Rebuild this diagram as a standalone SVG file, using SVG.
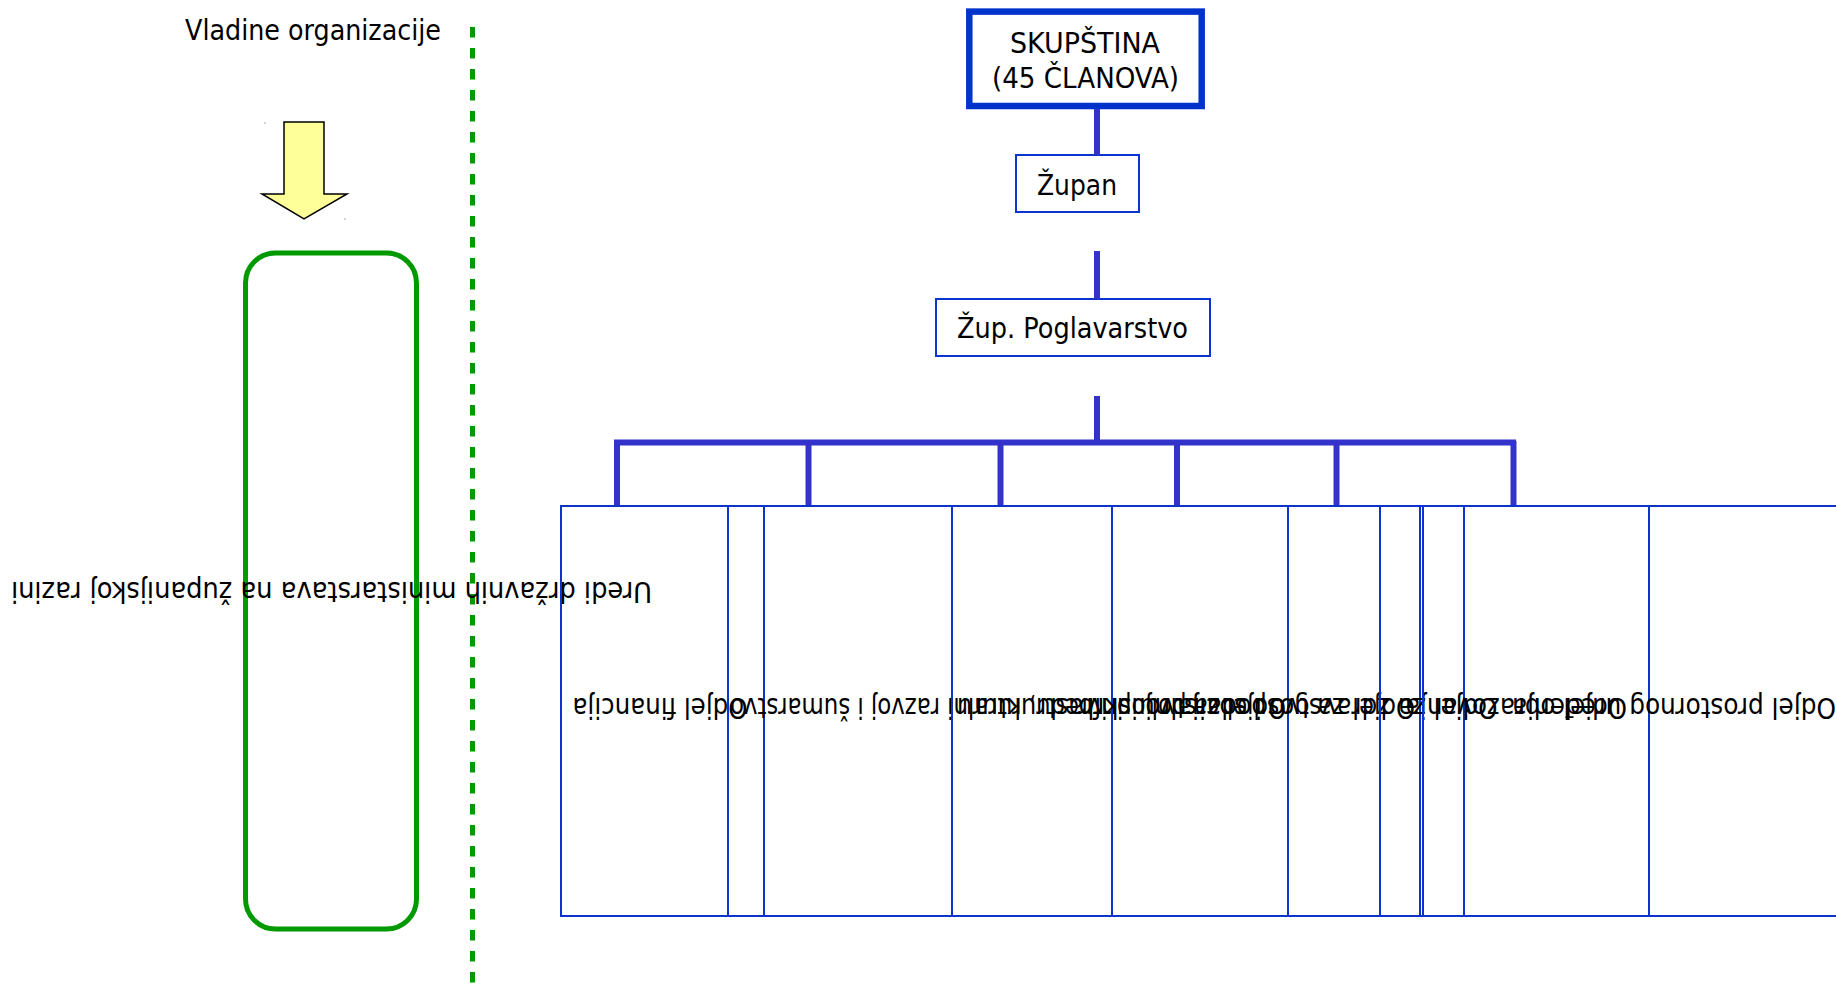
<svg xmlns="http://www.w3.org/2000/svg" width="1836" height="983" viewBox="0 0 1836 983">
  <style>
    .t { font-family: Tahoma, "DejaVu Sans Condensed", "DejaVu Sans", sans-serif; font-size: 28px; fill: #000; }
    .box { fill: #fff; stroke: #0a34cc; stroke-width: 2; }
    .dept { fill: none; stroke: #0a34cc; stroke-width: 2; }
    .conn { stroke: #3333cc; stroke-width: 6; fill: none; }
  </style>
  <rect width="1836" height="983" fill="#fff"/>

  <!-- government side -->
  <g id="vladine">
    <text class="t" x="185" y="40" textLength="256" lengthAdjust="spacingAndGlyphs">Vladine organizacije</text>
  </g>
  <g id="strelica">
    <polygon points="284,122 324,122 324,194 347,194 304,219 262,194 284,194" fill="#ffff99" stroke="#000" stroke-width="1.5"/>
    <rect x="264.5" y="122.5" width="1" height="1" fill="#555"/>
    <rect x="344.5" y="218.5" width="1" height="1" fill="#555"/>
  </g>
  <line id="granica" x1="472.5" y1="27" x2="472.5" y2="983" stroke="#009900" stroke-width="5" stroke-dasharray="10.5 10.5"/>
  <g id="uredi">
    <rect x="245.5" y="253" width="171" height="676" rx="30" ry="30" fill="none" stroke="#009900" stroke-width="5"/>
    <text class="t" transform="translate(331.5 582) rotate(180)" text-anchor="middle" textLength="641" lengthAdjust="spacingAndGlyphs">Uredi državnih ministarstava na županijskoj razini</text>
  </g>

  <!-- county hierarchy -->
  <g id="skupstina">
    <rect x="969.3" y="11.6" width="232.4" height="94.4" fill="#fff" stroke="#0033cc" stroke-width="6.5"/>
    <text class="t" x="1085" y="53" text-anchor="middle" textLength="150" lengthAdjust="spacingAndGlyphs">SKUPŠTINA</text>
    <text class="t" x="1085.5" y="88" text-anchor="middle" textLength="187" lengthAdjust="spacingAndGlyphs">(45 ČLANOVA)</text>
  </g>
  <g id="zupan">
    <rect class="box" x="1016" y="155" width="123" height="57"/>
    <text class="t" x="1077" y="195" text-anchor="middle" textLength="80" lengthAdjust="spacingAndGlyphs">Župan</text>
  </g>
  <g id="poglavarstvo">
    <rect class="box" x="936" y="299" width="274" height="57"/>
    <text class="t" x="1072.5" y="338" text-anchor="middle" textLength="231" lengthAdjust="spacingAndGlyphs">Žup. Poglavarstvo</text>
  </g>

  <g id="veze">
    <line class="conn" x1="1097" y1="109" x2="1097" y2="155"/>
    <line class="conn" x1="1097" y1="251" x2="1097" y2="299"/>
    <line class="conn" x1="1097" y1="396" x2="1097" y2="443"/>
    <line class="conn" x1="614" y1="442.5" x2="1516" y2="442.5"/>
    <line class="conn" x1="617" y1="441" x2="617" y2="506" stroke-width="5"/>
    <line class="conn" x1="808.5" y1="441" x2="808.5" y2="506" stroke-width="5"/>
    <line class="conn" x1="1000.5" y1="441" x2="1000.5" y2="506" stroke-width="5"/>
    <line class="conn" x1="1177" y1="441" x2="1177" y2="506" stroke-width="5"/>
    <line class="conn" x1="1336.5" y1="441" x2="1336.5" y2="506" stroke-width="5"/>
    <line class="conn" x1="1513.5" y1="441" x2="1513.5" y2="506" stroke-width="5"/>
  </g>

  <!-- departments: labels are turned upside down, centred on each box -->
  <g id="odjel-1">
    <rect class="dept" x="561" y="506" width="203" height="410"/>
    <text class="t" transform="translate(660 698) rotate(180)" text-anchor="middle" textLength="175" lengthAdjust="spacingAndGlyphs">Odjel financija</text>
  </g>
  <g id="odjel-2">
    <rect class="dept" x="728" y="506" width="560" height="410"/>
    <text class="t" transform="translate(1008 698) rotate(180)" text-anchor="middle" textLength="556" lengthAdjust="spacingAndGlyphs">Odjel za poljoprivredu, ruralni razvoj i šumarstvo</text>
  </g>
  <g id="odjel-3">
    <rect class="dept" x="952" y="506" width="468" height="410"/>
    <text class="t" transform="translate(1186 698) rotate(180)" text-anchor="middle" textLength="458" lengthAdjust="spacingAndGlyphs">Odjel za gospodarstvo i infrastrukturu</text>
  </g>
  <g id="odjel-4">
    <rect class="dept" x="1112" y="506" width="352" height="410"/>
    <text class="t" transform="translate(1288 698) rotate(180)" text-anchor="middle" textLength="419" lengthAdjust="spacingAndGlyphs">Odjel za zdravstvo i socijalnu skrb</text>
  </g>
  <g id="odjel-5">
    <rect class="dept" x="1380" y="506" width="269" height="410"/>
    <text class="t" transform="translate(1516 698) rotate(180)" text-anchor="middle" textLength="222" lengthAdjust="spacingAndGlyphs">Odjel obrazovanja</text>
  </g>
  <g id="odjel-6">
    <rect class="dept" x="1423" y="506" width="500" height="410"/>
    <text class="t" transform="translate(1836 698) rotate(180)" textLength="324" lengthAdjust="spacingAndGlyphs">Odjel prostornog uređenja</text>
  </g>
</svg>
